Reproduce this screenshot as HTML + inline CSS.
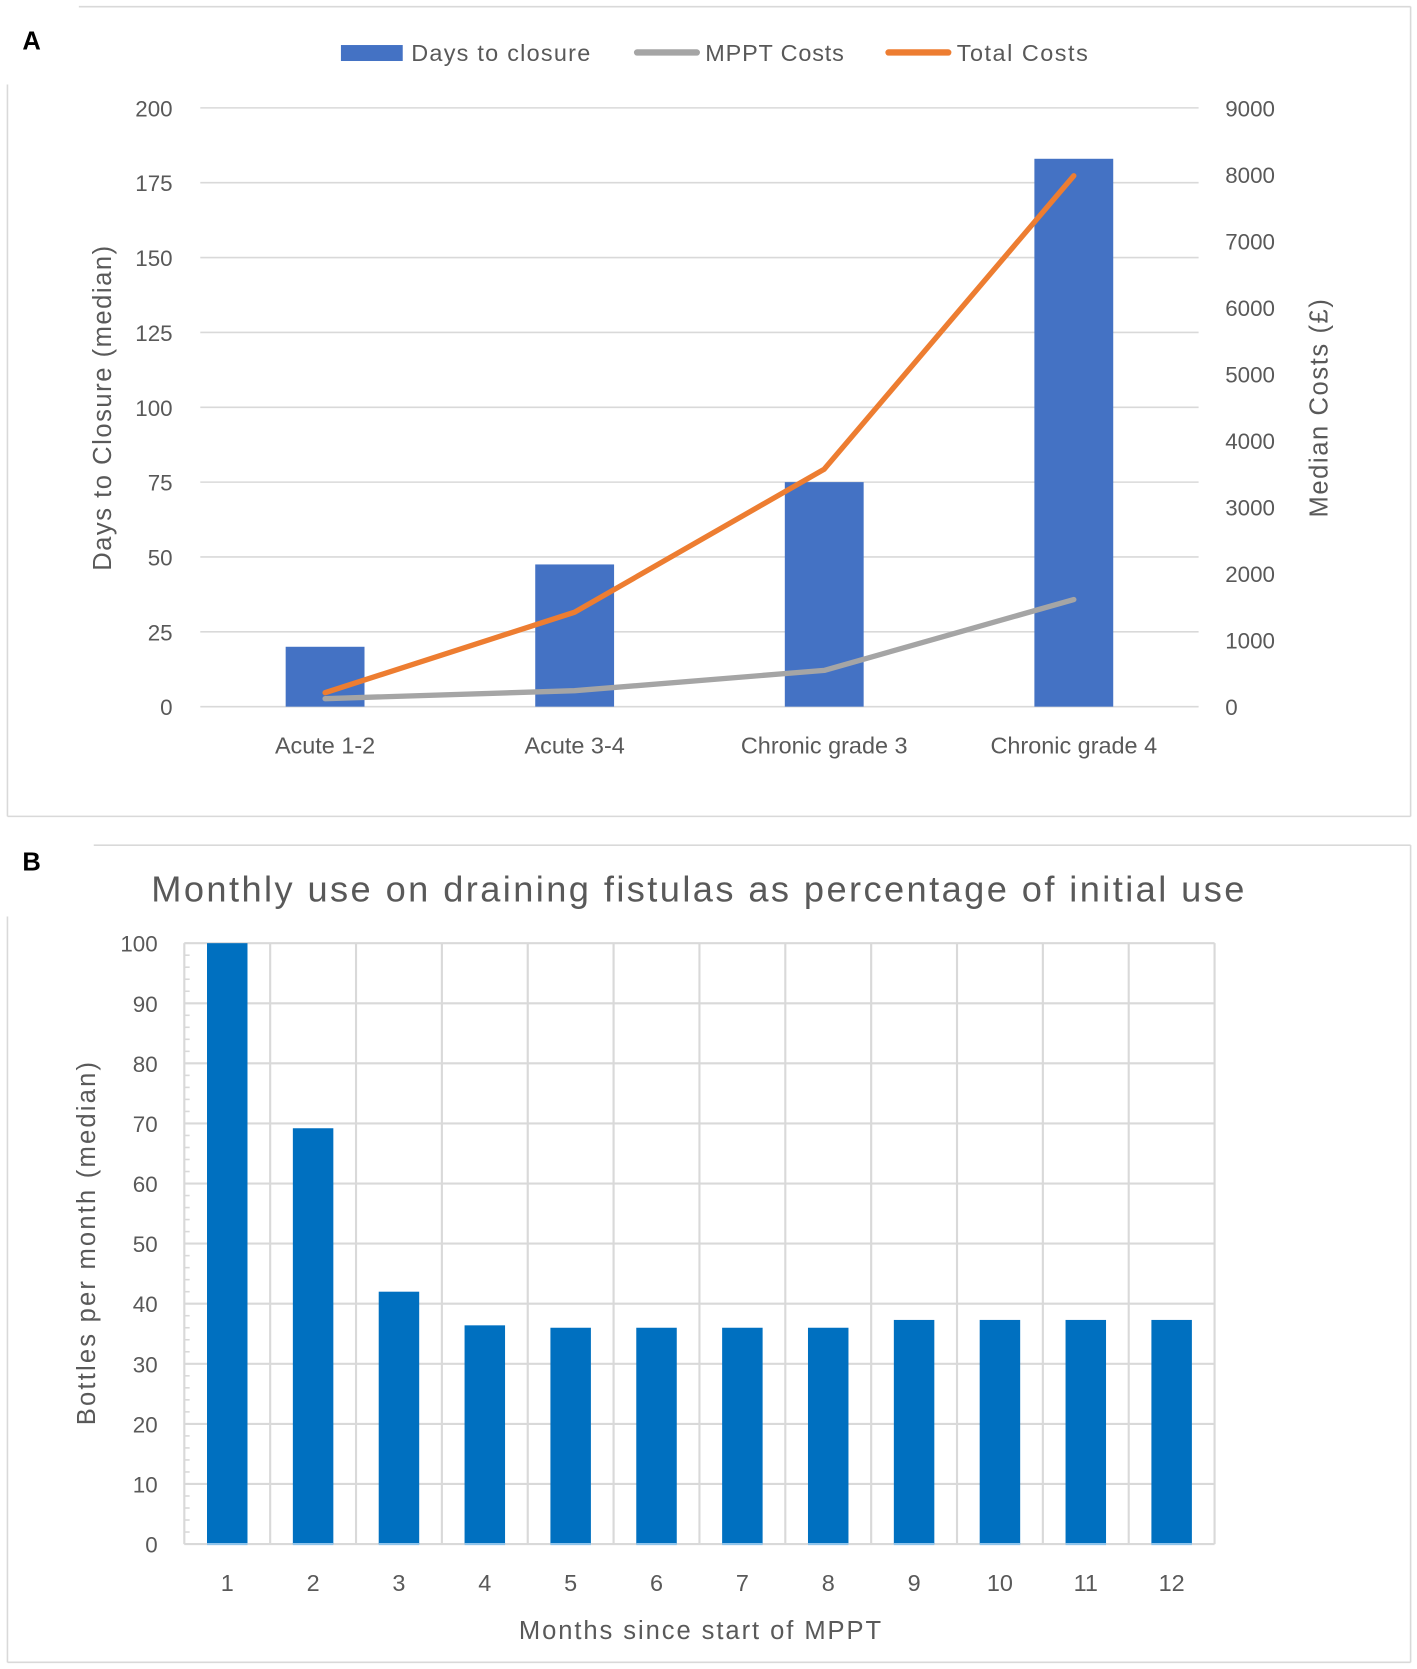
<!DOCTYPE html>
<html><head><meta charset="utf-8"><style>
html,body{margin:0;padding:0;background:#fff;}
svg{display:block;}
text{font-family:"Liberation Sans",sans-serif;fill:#595959;}
</style></head><body>
<svg id="fig" width="1417" height="1669" viewBox="0 0 1330 1566" xmlns="http://www.w3.org/2000/svg">
<g stroke="#d9d9d9" stroke-width="1.5" fill="none">
<line x1="74" y1="6" x2="1324" y2="6"/><line x1="1324" y1="6" x2="1324" y2="766"/>
<line x1="7" y1="766" x2="1324" y2="766"/><line x1="7" y1="79" x2="7" y2="766"/>
</g>
<text x="21" y="46" style="font-weight:bold;fill:#000;font-size:24px">A</text>
<g id="legendA">
<rect x="320" y="42" width="58" height="15" fill="#4472c4"/>
<text x="386" y="57" font-size="22" textLength="168">Days to closure</text>
<line x1="598" y1="49" x2="654" y2="49" stroke="#a5a5a5" stroke-width="6" stroke-linecap="round"/>
<text x="662" y="57" font-size="22" textLength="130">MPPT Costs</text>
<line x1="834" y1="49" x2="890" y2="49" stroke="#ed7d31" stroke-width="6" stroke-linecap="round"/>
<text x="898" y="57" font-size="22" textLength="123">Total Costs</text>
</g>
<g id="chartA"></g>
<text transform="translate(104,383) rotate(-90)" text-anchor="middle" font-size="24" textLength="305">Days to Closure (median)</text>
<text transform="translate(1246,383) rotate(-90)" text-anchor="middle" font-size="24" textLength="205">Median Costs (£)</text>

<g stroke="#d9d9d9" stroke-width="1.5" fill="none">
<line x1="88" y1="793" x2="1324" y2="793"/><line x1="1324" y1="793" x2="1324" y2="1560"/>
<line x1="7" y1="1560" x2="1324" y2="1560"/><line x1="7" y1="860" x2="7" y2="1560"/>
</g>
<text x="21" y="817" style="font-weight:bold;fill:#000;font-size:24px">B</text>
<text x="655" y="846" text-anchor="middle" font-size="34" textLength="1026">Monthly use on draining fistulas as percentage of initial use</text>
<g id="chartB"></g>
<text transform="translate(89,1167) rotate(-90)" text-anchor="middle" font-size="24" textLength="341">Bottles per month (median)</text>
<text x="657" y="1538" text-anchor="middle" font-size="24" textLength="340">Months since start of MPPT</text>
</svg>
<script>
const NS="http://www.w3.org/2000/svg";
const catsA=["Acute 1-2","Acute 3-4","Chronic grade 3","Chronic grade 4"];
const daysA=[20,47.5,75,183];
const mpptA=[120,240,545,1610];
const totalA=[210,1420,3570,7980];
const leftTicks=[0,25,50,75,100,125,150,175,200];
const rightTicks=[0,1000,2000,3000,4000,5000,6000,7000,8000,9000];
const monthsB=["1","2","3","4","5","6","7","8","9","10","11","12"];
const useB=[100,69.2,42,36.4,36,36,36,36,37.3,37.3,37.3,37.3];
const ticksB=[0,10,20,30,40,50,60,70,80,90,100];

function mk(tag,attrs,parent,txt){const e=document.createElementNS(NS,tag);for(const k in attrs)e.setAttribute(k,attrs[k]);if(txt!=null)e.textContent=txt;parent.appendChild(e);return e;}

(function(){
const g=document.getElementById('chartA');
const x0=188,x1=1125,yTop=101,yBot=663;
const yL=v=>yBot-(v/200)*(yBot-yTop);
const yR=v=>yBot-(v/9000)*(yBot-yTop);
const bw=(x1-x0)/catsA.length;
const xc=i=>x0+bw*(i+0.5);
leftTicks.forEach(t=>{
  const l=mk('line',{x1:x0,x2:x1,y1:yL(t),y2:yL(t),stroke:'#d9d9d9','stroke-width':1.5},g);
  
  
  const tx=mk('text',{x:162,y:yL(t)+8,'text-anchor':'end','font-size':21},g,String(t));
  
  
});
rightTicks.forEach(t=>{
  const tx=mk('text',{x:1150,y:yR(t)+8,'font-size':21},g,String(t));
  
  
});
daysA.forEach((v,i)=>{
  const r=mk('rect',{x:xc(i)-37,y:yL(v),width:74,height:yBot-yL(v),fill:'#4472c4'},g);
  
  
  const tx=mk('text',{x:xc(i),y:707,'text-anchor':'middle','font-size':22},g,catsA[i]);
  
  
});
const p1=mk('polyline',{points:mpptA.map((v,i)=>xc(i)+','+yR(v)).join(' '),fill:'none',stroke:'#a5a5a5','stroke-width':5,'stroke-linecap':'round','stroke-linejoin':'round'},g);


const p2=mk('polyline',{points:totalA.map((v,i)=>xc(i)+','+yR(v)).join(' '),fill:'none',stroke:'#ed7d31','stroke-width':5,'stroke-linecap':'round','stroke-linejoin':'round'},g);


})();

(function(){
const g=document.getElementById('chartB');
const x0=173,x1=1140,yTop=885,yBot=1449;
const y=v=>yBot-(v/100)*(yBot-yTop);
const bw=(x1-x0)/monthsB.length;
const xc=i=>x0+bw*(i+0.5);
ticksB.forEach(t=>{
  const l=mk('line',{x1:x0,x2:x1,y1:y(t),y2:y(t),stroke:'#d9d9d9','stroke-width':2},g);
  
  
  const tx=mk('text',{x:148,y:y(t)+8,'text-anchor':'end','font-size':21},g,String(t));
  
  
});
for(let v=0;v<=100;v+=2){
  const l=mk('line',{x1:x0,x2:x0+5,y1:y(v),y2:y(v),stroke:'#d9d9d9','stroke-width':1.5},g);
  
  
}
for(let i=0;i<=monthsB.length;i++){
  const l=mk('line',{x1:x0+bw*i,x2:x0+bw*i,y1:yTop,y2:yBot,stroke:'#d9d9d9','stroke-width':2},g);
  
  
}
useB.forEach((v,i)=>{
  const r=mk('rect',{x:xc(i)-19,y:y(v),width:38,height:yBot-y(v),fill:'#0070c0'},g);
  
  
  const s=mk('line',{x1:xc(i)-19,x2:xc(i)+19,y1:yBot,y2:yBot,stroke:'#8fc3ea','stroke-width':2},g);
  
  
  const tx=mk('text',{x:xc(i),y:1493,'text-anchor':'middle','font-size':22},g,monthsB[i]);
  
  
});
})();
</script>
</body></html>
